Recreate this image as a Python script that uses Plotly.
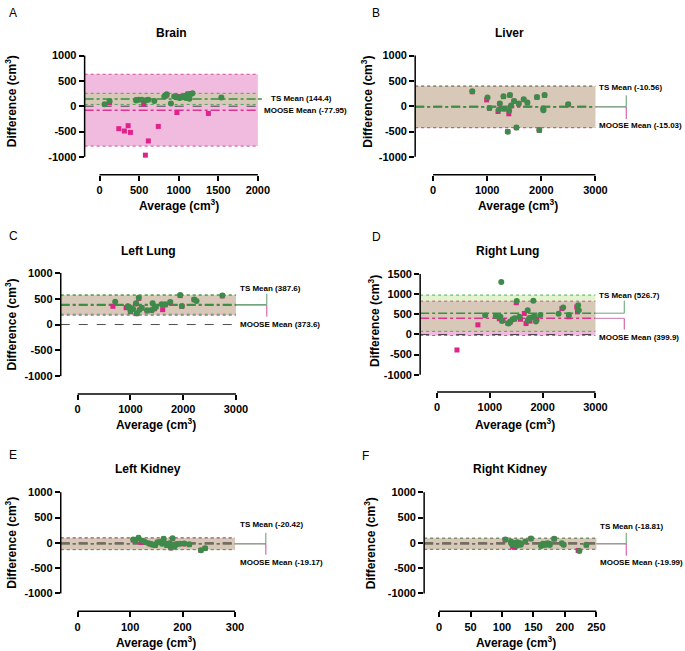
import plotly.graph_objects as go

W, H = 685, 651
FONT = "Liberation Sans, Arial, sans-serif"

# ---------------- DATA ----------------
panel_names = ["Brain", "Liver", "Left Lung", "Right Lung", "Left Kidney", "Right Kidney"]
panel_letters = ["A", "B", "C", "D", "E", "F"]

ts_means = [144.4, -10.56, 387.6, 526.7, -20.42, -18.81]
moose_means = [-77.95, -15.03, 373.6, 399.9, -19.17, -19.99]
ts_loa_low = [35, -421, 200, 77, -135, -128]
ts_loa_high = [255, 400, 575, 976, 100, 92]
moose_loa_low = [-788, -425, 180, -25, -132, -130]
moose_loa_high = [632, 395, 567, 825, 97, 90]

x_ticks = [[0, 500, 1000, 1500, 2000], [0, 1000, 2000, 3000], [0, 1000, 2000, 3000],
           [0, 1000, 2000, 3000], [0, 100, 200, 300], [0, 50, 100, 150, 200, 250]]
y_ticks = [[-1000, -500, 0, 500, 1000], [-1000, -500, 0, 500, 1000], [-1000, -500, 0, 500, 1000],
           [-1000, -500, 0, 500, 1000, 1500], [-1000, -500, 0, 500, 1000], [-1000, -500, 0, 500, 1000]]

# Brain
brain_ts_avg = [63, 126, 461, 491, 533, 587, 616, 692, 818, 847, 902, 943, 970, 998, 1015, 1036,
                1069, 1090, 1111, 1136, 1153, 1174, 1539]
brain_ts_diff = [40, 100, 115, 130, 127, 120, 130, 105, 190, 235, 52, 190, 175, 170, 160, 180,
                 200, 160, 235, 150, 240, 255, 170]
brain_moose_avg = [126, 243, 314, 361, 390, 470, 558, 579, 616, 742, 977, 1375, 830, 850, 960,
                   1000, 1120, 1160, 1060]
brain_moose_diff = [70, -444, -490, -385, -517, 130, 45, -967, -686, -399, -124, -143, 200, 220,
                    200, 190, 240, 250, 175]

# Liver
liver_ts_avg = [724, 1006, 1043, 1215, 1233, 1301, 1313, 1380, 1405, 1420, 1442, 1497, 1540,
                1583, 1675, 1743, 1920, 1963, 2037, 2040, 2061, 2497]
liver_ts_diff = [294, 170, -33, -72, 53, 196, -46, -503, -91, 222, 13, 105, -419,
                 52, 137, 72, 183, -471, -46, -78, 222, 39]
liver_moose_avg = [724, 990, 1043, 1200, 1233, 1301, 1313, 1380, 1400, 1420, 1442, 1497, 1540,
                   1583, 1675, 1743, 1920, 1963, 2037, 2061, 2497]
liver_moose_diff = [285, 125, -40, -105, 45, 190, -55, -500, -150, 215, 5, 100, -425,
                    45, 130, 65, 175, -478, -60, 215, 30]

# Left lung
llung_ts_avg = [711, 950, 960, 990, 1001, 1050, 1107, 1120, 1158, 1170, 1214, 1315, 1403, 1421,
                1453, 1484, 1591, 1660, 1755, 1943, 1975, 2208, 2252, 2742]
llung_ts_diff = [442, 355, 340, 330, 260, 300, 410, 218, 519, 282, 327, 275, 282, 410,
                 314, 340, 391, 391, 436, 570, 359, 487, 455, 564]
llung_moose_avg = [668, 918, 960, 1001, 1107, 1120, 1158, 1214, 1315, 1403, 1453, 1610, 1660,
                   1755, 1943, 1975, 2208, 2742]
llung_moose_diff = [353, 326, 340, 250, 400, 210, 505, 320, 265, 275, 305, 288, 380,
                    425, 560, 350, 480, 555]

# Right lung
rlung_ts_avg = [912, 1113, 1200, 1217, 1230, 1353, 1390, 1434, 1472, 1510, 1560, 1717, 1720,
                1749, 1793, 1824, 1843, 1874, 1956, 2302, 2390, 2497, 2673, 2686]
rlung_ts_diff = [475, 455, 440, 1300, 336, 270, 320, 377, 402, 828, 440, 600, 350,
                 410, 420, 836, 450, 320, 480, 510, 670, 480, 725, 600]
rlung_moose_avg = [377, 774, 1180, 1250, 1340, 1380, 1470, 1500, 1580, 1654, 1686, 1760, 1893,
                   2365, 2497, 2648, 2660]
rlung_moose_diff = [-385, 238, 390, 350, 280, 300, 380, 786, 377, 520, 270, 330, 377,
                    640, 440, 680, 560]

# Left kidney
lkid_ts_avg = [106, 110, 116, 124, 128, 135, 140, 143, 148, 152, 157, 161, 164, 167, 170, 172,
               175, 178, 181, 185, 189, 195, 203, 213, 235, 243]
lkid_ts_diff = [65, 50, 100, 40, 16, -10, -29, -38, -45, 10, 18, -20, 83, -14, -45, -30,
                -6, -92, 91, -72, -25, -20, -15, -30, -144, -105]
lkid_moose_avg = [106, 116, 121, 128, 138, 145, 148, 157, 164, 170, 175, 178, 181, 189, 203,
                  213, 235, 243]
lkid_moose_diff = [55, 90, 6, 10, -20, -30, -50, 10, 75, -50, -15, -100, 80, -30, -20,
                   -35, -150, -110]

# Right kidney
rkid_ts_avg = [105.5, 114, 115, 116, 118, 123, 124, 128, 130, 137, 146, 162, 165, 170, 172,
               175, 176, 183, 195, 198, 223, 234]
rkid_ts_diff = [65, 25, -10, -35, 0, -59, 10, -5, -40, 26, 85, -60, -20, -40, -10,
                -20, -45, 80, -10, -40, -160, -40]
rkid_moose_avg = [105, 117, 120, 124, 137, 146, 165, 170, 175, 183, 198, 221, 234]
rkid_moose_diff = [60, -75, -90, -50, 20, 80, -50, -15, -20, 75, -35, -150, -45]

ts_avg = [brain_ts_avg, liver_ts_avg, llung_ts_avg, rlung_ts_avg, lkid_ts_avg, rkid_ts_avg]
ts_diff = [brain_ts_diff, liver_ts_diff, llung_ts_diff, rlung_ts_diff, lkid_ts_diff, rkid_ts_diff]
moose_avg = [brain_moose_avg, liver_moose_avg, llung_moose_avg, rlung_moose_avg, lkid_moose_avg, rkid_moose_avg]
moose_diff = [brain_moose_diff, liver_moose_diff, llung_moose_diff, rlung_moose_diff, lkid_moose_diff, rkid_moose_diff]

# ---------------- LAYOUT GEOMETRY (pixels) ----------------
geom = [
    dict(ax=85, x0=100, x1=259, right=268, ytop=51, yzero=102, ybot=171, bracket=None,
         ts_lbl=(270, 94), mo_lbl=(263, 106), title=(172, 28), xtitle=(180, 202), ytitle=(11, 97), letter=(7, 8)),
    dict(ax=417, x0=435, x1=598, right=633, ytop=51, yzero=102, ybot=171, bracket=(629, 91, 115),
         ts_lbl=(600, 83), mo_lbl=(600, 121), title=(512, 28), xtitle=(520, 202), ytitle=(369, 97), letter=(372, 8)),
    dict(ax=61, x0=78, x1=237, right=271, ytop=270, yzero=322, ybot=392, bracket=(268, 291, 314),
         ts_lbl=(239, 286), mo_lbl=(239, 322), title=(149, 248), xtitle=(157, 422), ytitle=(11, 322), letter=(7, 233)),
    dict(ax=422, x0=439, x1=598, right=630, ytop=271, yzero=332, ybot=390, bracket=(627, 298, 327),
         ts_lbl=(600, 293), mo_lbl=(600, 335), title=(510, 248), xtitle=(517, 422), ytitle=(375, 318), letter=(372, 234)),
    dict(ax=61, x0=78, x1=236, right=270, ytop=491, yzero=542, ybot=611, bracket=(267, 532, 554),
         ts_lbl=(239, 524), mo_lbl=(239, 562), title=(149, 468), xtitle=(157, 642), ytitle=(11, 542), letter=(7, 453)),
    dict(ax=426, x0=441, x1=599, right=632, ytop=491, yzero=542, ybot=611, bracket=(629, 532, 555),
         ts_lbl=(601, 526), mo_lbl=(601, 562), title=(512, 468), xtitle=(518, 642), ytitle=(371, 542), letter=(362, 454)),
]

GREEN_M = "#3E8A4A"
PINK_M = "#E0228A"
GREEN_L = "#3A8F45"
PINK_L = "#D9368F"
GREEN_DOT = "#4CA84E"
PINK_DOT = "#D8449E"
TS_FILL = "rgba(169,226,112,0.35)"
MO_FILL = "rgba(225,120,190,0.5)"

fig = go.Figure()
shapes = []
annotations = []
layout_axes = {}

for i, g in enumerate(geom):
    sfx = "" if i == 0 else str(i + 1)
    xname, yname = "x" + sfx, "y" + sfx
    xmax = max(x_ticks[i])
    ymax = max(y_ticks[i])
    ymin = min(y_ticks[i])
    xppu = (g["x1"] - g["x0"]) / xmax
    yppu = (g["yzero"] - g["ytop"]) / ymax

    def px2x(px, g=g, xppu=xppu):
        return (px - g["x0"]) / xppu

    def px2y(py, g=g, yppu=yppu):
        return (g["yzero"] - py) / yppu

    xr = [px2x(g["ax"]), px2x(g["right"])]
    yr = [px2y(g["ybot"]), px2y(g["ytop"] - 1)]

    layout_axes["xaxis" + sfx] = dict(
        domain=[g["ax"] / W, g["right"] / W], range=xr, anchor=yname,
        showgrid=False, zeroline=False, showline=False,
        tickmode="array", tickvals=x_ticks[i], ticktext=[str(v) for v in x_ticks[i]],
        ticks="outside", ticklen=5, tickwidth=1.5, tickcolor="black",
        tickfont=dict(family=FONT, size=11, color="black", weight="bold"),
        fixedrange=True)
    layout_axes["yaxis" + sfx] = dict(
        domain=[1 - g["ybot"] / H, 1 - (g["ytop"] - 1) / H], range=yr, anchor=xname,
        showgrid=False, zeroline=False, showline=False,
        tickmode="array", tickvals=y_ticks[i], ticktext=[str(v) for v in y_ticks[i]],
        ticks="outside", ticklen=5, tickwidth=1.5, tickcolor="black",
        tickfont=dict(family=FONT, size=11, color="black", weight="bold"),
        fixedrange=True)

    # bands
    shapes.append(dict(type="rect", xref=xname, yref=yname, x0=xr[0], x1=xmax,
                       y0=moose_loa_low[i], y1=moose_loa_high[i], fillcolor=MO_FILL,
                       line=dict(width=0), layer="below"))
    shapes.append(dict(type="rect", xref=xname, yref=yname, x0=xr[0], x1=xmax,
                       y0=ts_loa_low[i], y1=ts_loa_high[i], fillcolor=TS_FILL,
                       line=dict(width=0), layer="below"))
    for v in (moose_loa_low[i], moose_loa_high[i]):
        shapes.append(dict(type="line", xref=xname, yref=yname, x0=xr[0], x1=xmax, y0=v, y1=v,
                           line=dict(color=PINK_DOT, width=1, dash="dot"), layer="below"))
    for v in (ts_loa_low[i], ts_loa_high[i]):
        shapes.append(dict(type="line", xref=xname, yref=yname, x0=xr[0], x1=xmax, y0=v, y1=v,
                           line=dict(color=GREEN_DOT, width=1, dash="dot"), layer="below"))
    # zero line
    shapes.append(dict(type="line", xref=xname, yref=yname, x0=xr[0], x1=xmax, y0=0, y1=0,
                       line=dict(color="#222222", width=0.8, dash="dash"), layer="below"))
    # mean lines
    shapes.append(dict(type="line", xref=xname, yref=yname, x0=xr[0], x1=xmax,
                       y0=moose_means[i], y1=moose_means[i],
                       line=dict(color=PINK_L, width=1.5, dash="dashdot"), layer="below"))
    shapes.append(dict(type="line", xref=xname, yref=yname, x0=xr[0], x1=xmax,
                       y0=ts_means[i], y1=ts_means[i],
                       line=dict(color=GREEN_L, width=1.5, dash="dashdot"), layer="below"))
    # brackets
    if g["bracket"] is not None:
        bx, bup, bdown = g["bracket"]
        bxd = px2x(bx)
        shapes.append(dict(type="line", xref=xname, yref=yname, x0=xmax, x1=bxd,
                           y0=moose_means[i], y1=moose_means[i],
                           line=dict(color="#C77BAE", width=1), layer="below"))
        shapes.append(dict(type="line", xref=xname, yref=yname, x0=xmax, x1=bxd,
                           y0=ts_means[i], y1=ts_means[i],
                           line=dict(color="#6FA57A", width=1), layer="below"))
        shapes.append(dict(type="line", xref=xname, yref=yname, x0=bxd, x1=bxd,
                           y0=ts_means[i], y1=px2y(bup),
                           line=dict(color="#5E9E6C", width=1)))
        shapes.append(dict(type="line", xref=xname, yref=yname, x0=bxd, x1=bxd,
                           y0=moose_means[i], y1=px2y(bdown),
                           line=dict(color="#CC4A9C", width=1)))
    else:
        shapes.append(dict(type="line", xref=xname, yref=yname, x0=xmax, x1=px2x(g["x1"] + 4),
                           y0=ts_means[i], y1=ts_means[i],
                           line=dict(color=GREEN_L, width=1.5, dash="dashdot"), layer="below"))

    # axis lines (paper)
    shapes.append(dict(type="line", xref="paper", yref="paper",
                       x0=g["ax"] / W, x1=g["ax"] / W,
                       y0=1 - (g["yzero"] - ymin * yppu) / H, y1=1 - (g["yzero"] - ymax * yppu) / H,
                       line=dict(color="black", width=1.5)))
    shapes.append(dict(type="line", xref="paper", yref="paper",
                       x0=(g["x0"] + min(x_ticks[i]) * xppu) / W, x1=(g["x0"] + xmax * xppu) / W,
                       y0=1 - g["ybot"] / H, y1=1 - g["ybot"] / H,
                       line=dict(color="black", width=1.5)))

    # traces
    fig.add_trace(go.Scatter(x=moose_avg[i], y=moose_diff[i], mode="markers", xaxis=xname, yaxis=yname,
                             marker=dict(symbol="square", size=5, color=PINK_M, line=dict(width=0)),
                             showlegend=False, cliponaxis=False, hoverinfo="skip"))
    fig.add_trace(go.Scatter(x=ts_avg[i], y=ts_diff[i], mode="markers", xaxis=xname, yaxis=yname,
                             marker=dict(symbol="circle", size=6, color=GREEN_M, line=dict(width=0)),
                             showlegend=False, cliponaxis=False, hoverinfo="skip"))

    # text
    def ann(text, pos, size, bold=True, xanchor="center", angle=0):
        annotations.append(dict(text=("<b>%s</b>" % text) if bold else text,
                                xref="paper", yref="paper", x=pos[0] / W, y=1 - pos[1] / H,
                                xanchor=xanchor, yanchor="middle", showarrow=False, textangle=angle,
                                font=dict(family=FONT, size=size, color="black")))

    ann(panel_names[i], g["title"], 12)
    ann("Average (cm<sup>3</sup>)", g["xtitle"], 12)
    ann("Difference (cm<sup>3</sup>)", g["ytitle"], 12, angle=-90)
    ann(panel_letters[i], g["letter"], 12, bold=False, xanchor="left")
    ann("TS Mean (%s)" % ts_means[i], g["ts_lbl"], 8, xanchor="left")
    ann("MOOSE Mean (%s)" % moose_means[i], g["mo_lbl"], 8, xanchor="left")

fig.update_layout(
    width=W, height=H, margin=dict(l=0, r=0, t=0, b=0),
    paper_bgcolor="white", plot_bgcolor="rgba(0,0,0,0)",
    shapes=shapes, annotations=annotations, showlegend=False,
    **layout_axes)

fig.write_html("out.html")
